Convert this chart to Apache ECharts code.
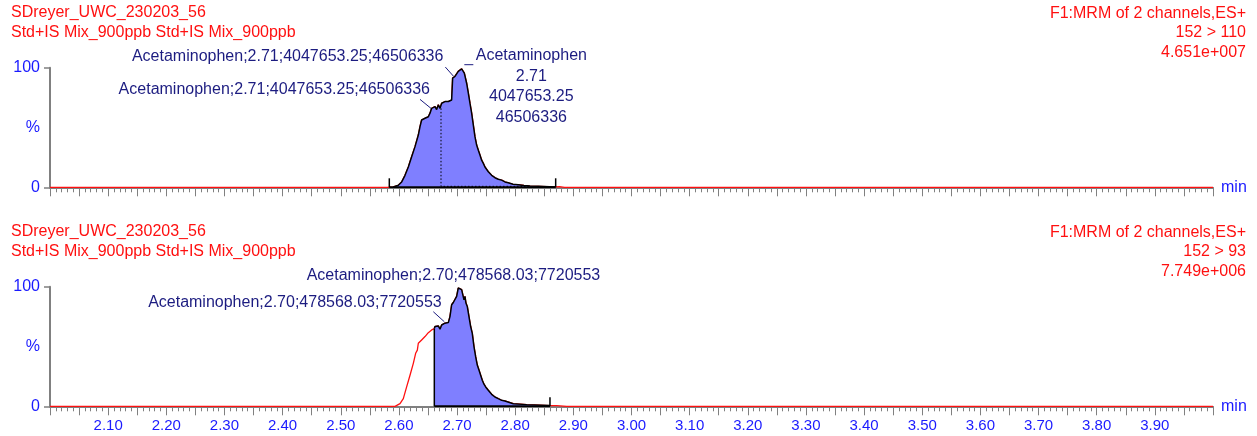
<!DOCTYPE html>
<html>
<head>
<meta charset="utf-8">
<script src="https://cdn.jsdelivr.net/npm/echarts@6/dist/echarts.min.js"></script>
<style>
html,body{margin:0;padding:0;background:#fff;}
#chart{width:1257px;height:436px;}
</style>
</head>
<body>
<div id="chart"></div>
<script>
// ---------------- DATA ----------------
const xRange = [2.00, 4.00];

// Channel 1: 152 > 110 (retention time, min ; relative intensity, %)
const topTime = [2.000, 2.580, 2.5904, 2.5990, 2.6048, 2.6105, 2.6162, 2.6219, 2.6277, 2.6334,
  2.6363, 2.6391, 2.6420, 2.6449, 2.6477, 2.6506, 2.6535, 2.6563, 2.6592, 2.6621,
  2.6649, 2.6678, 2.6707, 2.6735, 2.6764, 2.6792, 2.6850, 2.6907, 2.6924, 2.6964,
  2.6993, 2.7021, 2.7050, 2.7079, 2.7108, 2.7125, 2.7148, 2.7165, 2.7194, 2.7222,
  2.7251, 2.7280, 2.7308, 2.7337, 2.7366, 2.7394, 2.7423, 2.7452, 2.7480, 2.7538,
  2.7595, 2.7652, 2.7709, 2.7767, 2.7824, 2.7880, 2.7962, 2.8050, 2.8150, 2.8255,
  2.8400, 2.8684, 2.8760, 2.8850, 4.000];
const topPct = [0, 0, 0.3, 1.7, 4.5, 10, 17, 25.5, 34, 43.7,
  50.7, 56.3, 55, 57.7, 56.3, 59, 62, 66, 64.7, 67.5,
  65, 69, 66, 70.3, 71, 71.7, 71.7, 73, 91.3, 92.7,
  91.3, 97, 98.3, 99, 100, 95.5, 94, 87, 78.7, 70.3,
  62, 52, 42.3, 35.3, 31, 27, 22.7, 20, 17, 13,
  10, 8, 6.7, 6, 4.5, 3.8, 2.5, 2.2, 1.6, 1.0,
  0.8, 0.3, 0.5, 0, 0];
const topIntegration = [2.5835, 2.8696];
const topDropTime = 2.6724, topDropPct = 66, topDropTailEnd = 2.826, topDropTailPct = 0.8;

// Channel 2: 152 > 93
const botTime = [2.000, 2.585, 2.5933, 2.6019, 2.6076, 2.6133, 2.6191, 2.6248, 2.6288, 2.6317,
  2.6334, 2.6363, 2.6391, 2.6420, 2.6449, 2.6477, 2.6506, 2.6535, 2.6563, 2.6592,
  2.6609, 2.6621, 2.6649, 2.6678, 2.6707, 2.6735, 2.6764, 2.6792, 2.6821, 2.6850,
  2.6878, 2.6907, 2.6936, 2.6964, 2.6993, 2.7021, 2.7050, 2.7079, 2.7096, 2.7119,
  2.7136, 2.7153, 2.7176, 2.7205, 2.7234, 2.7262, 2.7291, 2.7320, 2.7348, 2.7377,
  2.7406, 2.7434, 2.7463, 2.7492, 2.7537, 2.7595, 2.7652, 2.7709, 2.7767, 2.7824,
  2.7967, 2.8198, 2.8598, 2.8714, 2.8886, 4.000];
const botPct = [0, 0, 0, 2.2, 6.4, 16.2, 26, 35.9, 44.3, 47,
  52.7, 51.3, 55.5, 54, 58.3, 59.7, 61.6, 62.5, 63.9, 64.4,
  65, 66.7, 65.3, 67.2, 64.4, 68, 66.7, 69.5, 70.9, 70,
  75, 84.9, 86.8, 86.3, 91.9, 98.9, 99.7, 97.5, 98.9, 89,
  91.9, 86.3, 83.5, 75, 66.7, 61, 49.9, 41.5, 34.5, 30.3,
  26, 21.8, 18.5, 16.2, 13.4, 10, 7.8, 6.4, 5, 4.5,
  2.2, 1.4, 0.6, 0.6, 0, 0];
const botIntegration = [2.6609, 2.8598];

// Peak annotations (anchor time, anchor %, text)
const topAnnoTime = [2.6936, 2.6552, 2.7108];
const topAnnoPct = [93, 66, 100];
const topAnnoText = [
  'Acetaminophen;2.71;4047653.25;46506336',
  'Acetaminophen;2.71;4047653.25;46506336',
  'Acetaminophen\n2.71\n4047653.25\n46506336'];
const botAnnoTime = [2.7050, 2.6781];
const botAnnoPct = [99.7, 70.7];
const botAnnoText = [
  'Acetaminophen;2.70;478568.03;7720553',
  'Acetaminophen;2.70;478568.03;7720553'];

// Header texts
const headerLeft = ['SDreyer_UWC_230203_56', 'Std+IS Mix_900ppb Std+IS Mix_900ppb'];
const topHeaderRight = ['F1:MRM of 2 channels,ES+', '152 > 110', '4.651e+007'];
const botHeaderRight = ['F1:MRM of 2 channels,ES+', '152 > 93', '7.749e+006'];
const yTickLabels = {0: '0', 50: '%', 100: '100'};

// ---------------- STYLE / LAYOUT ----------------
const RED = '#ff1010', BLUE = '#1a1aff', NAVY = '#1c1c80', GREY = '#808080', FILL = '#7f7fff';
const FONT = '"Liberation Sans", Arial, sans-serif';
const font16 = '16px ' + FONT;
const GRID_TOP = [67.7, 286.7], GRID_H = 119.6;
// per-annotation layout (pixel offsets relative to anchor)
const topAnnoLayout = [
  {kind: 'leader', lx: -8, ly: -9, tx: -10, ty: -19.3},
  {kind: 'leader', lx: -11, ly: -9, tx: -1, ty: -18.3},
  {kind: 'apex', ux1: 1, ux2: 10, uy: -3, tx: 68, ty: -22}
];
const botAnnoLayout = [
  {kind: 'plain', tx: -153.3, ty: -11.8},
  {kind: 'leader', lx: -11, ly: -10, tx: -2.6, ty: -19}
];

function pairs(ts, vs) { return ts.map((t, i) => [t, vs[i]]); }
function between(ts, vs, a, b) {
  return pairs(ts, vs).filter(p => p[0] >= a - 1e-9 && p[0] <= b + 1e-9);
}
function valueAt(ts, vs, t) {
  let best = 0, bd = Infinity;
  ts.forEach((x, i) => { const d = Math.abs(x - t); if (d < bd) { bd = d; best = i; } });
  return bd < 0.002 ? vs[best] : 0;
}

function annoRenderer(texts, layout) {
  return function (params, api) {
    const i = params.dataIndex;
    const p = api.coord([api.value(0), api.value(1)]);
    const L = layout[i];
    const ch = [];
    if (L.kind === 'leader') {
      ch.push({type: 'line', shape: {x1: p[0] + L.lx, y1: p[1] + L.ly, x2: p[0], y2: p[1]},
        style: {stroke: NAVY, lineWidth: 1}});
      ch.push({type: 'text', style: {text: texts[i], x: p[0] + L.tx, y: p[1] + L.ty,
        align: 'right', verticalAlign: 'middle', font: font16, fill: NAVY}});
    } else if (L.kind === 'apex') {
      ch.push({type: 'line', shape: {x1: p[0] + L.ux1, y1: p[1] + L.uy, x2: p[0] + L.ux2, y2: p[1] + L.uy},
        style: {stroke: NAVY, lineWidth: 1}});
      ch.push({type: 'text', style: {text: texts[i], x: p[0] + L.tx, y: p[1] + L.ty,
        align: 'center', verticalAlign: 'top', font: font16, lineHeight: 20.5, fill: NAVY}});
    } else {
      ch.push({type: 'text', style: {text: texts[i], x: p[0] + L.tx, y: p[1] + L.ty,
        align: 'left', verticalAlign: 'middle', font: font16, fill: NAVY}});
    }
    return {type: 'group', children: ch};
  };
}

function dropRenderer(params, api) {
  const top = api.coord([api.value(0), api.value(1)]);
  const base = api.coord([api.value(0), 0]);
  const y2 = Math.min(top[1], base[1] - 9);
  return {type: 'line', shape: {x1: base[0], y1: base[1], x2: base[0], y2: y2},
    style: {stroke: '#000', lineWidth: 1.5}};
}

function xAxisCfg(gi, showLabels) {
  return {
    type: 'value', gridIndex: gi, min: xRange[0], max: xRange[1], interval: 0.05,
    name: 'min', nameLocation: 'end', nameGap: 8,
    nameTextStyle: {color: BLUE, fontSize: 16, fontFamily: FONT, verticalAlign: 'middle', padding: [5, 0, 0, 0]},
    axisLine: {show: true, onZero: false, lineStyle: {color: GREY, width: 2}},
    axisTick: {show: true, length: 9, lineStyle: {color: GREY, width: 1}},
    minorTick: {show: true, splitNumber: 5, length: 5, lineStyle: {color: GREY, width: 1}},
    splitLine: {show: false}, minorSplitLine: {show: false},
    axisLabel: {
      show: showLabels, color: BLUE, fontSize: 15, fontFamily: FONT, margin: 12,
      showMinLabel: false, showMaxLabel: false,
      formatter: v => (Math.round(v * 100) % 10 === 0 ? v.toFixed(2) : '')
    }
  };
}
function yAxisCfg(gi) {
  return {
    type: 'value', gridIndex: gi, min: 0, max: 100, interval: 50,
    axisLine: {show: true, lineStyle: {color: GREY, width: 2}},
    axisTick: {show: true, length: 6, customValues: [0, 100], lineStyle: {color: GREY, width: 1.5}},
    splitLine: {show: false},
    axisLabel: {show: true, color: BLUE, fontSize: 16, fontFamily: FONT, margin: 10,
      customValues: [0, 50, 100], formatter: v => yTickLabels[v]}
  };
}

function panelSeries(gi, ts, vs, integ) {
  const s = [];
  s.push({type: 'line', xAxisIndex: gi, yAxisIndex: gi, data: pairs(ts, vs), showSymbol: false,
    lineStyle: {color: RED, width: 1.3}, z: 2, silent: true});
  s.push({type: 'line', xAxisIndex: gi, yAxisIndex: gi, data: between(ts, vs, integ[0], integ[1]),
    showSymbol: false, lineStyle: {color: '#000', width: 1.5}, areaStyle: {color: FILL, opacity: 1}, z: 3, silent: true});
  s.push({type: 'line', xAxisIndex: gi, yAxisIndex: gi, data: [[integ[0], 0], [integ[1], 0]],
    showSymbol: false, lineStyle: {color: '#000', width: 2}, z: 4, silent: true});
  s.push({type: 'custom', xAxisIndex: gi, yAxisIndex: gi, renderItem: dropRenderer,
    data: integ.map(t => [t, valueAt(ts, vs, t)]), z: 5, silent: true});
  return s;
}

const graphics = [];
[0, 1].forEach(p => {
  const base = p === 0 ? 12.7 : 231.7;
  headerLeft.forEach((t, i) => graphics.push({type: 'text', style: {text: t, x: 11, y: base + i * 20,
    verticalAlign: 'middle', align: 'left', font: font16, fill: RED}}));
  const right = p === 0 ? topHeaderRight : botHeaderRight;
  right.forEach((t, i) => graphics.push({type: 'text', style: {text: t, x: 1246, y: base + 0.6 + i * 19.7,
    verticalAlign: 'middle', align: 'right', font: font16, fill: RED}}));
});

const series = [].concat(
  panelSeries(0, topTime, topPct, topIntegration),
  [{type: 'line', xAxisIndex: 0, yAxisIndex: 0,
    data: [[topDropTime, topDropPct], [topDropTime, topDropTailPct], [topDropTailEnd, topDropTailPct]],
    showSymbol: false, lineStyle: {color: '#000', width: 1, type: [1.5, 2]}, z: 5, silent: true},
   {type: 'custom', xAxisIndex: 0, yAxisIndex: 0, renderItem: annoRenderer(topAnnoText, topAnnoLayout),
    data: pairs(topAnnoTime, topAnnoPct), clip: false, z: 6, silent: true}],
  panelSeries(1, botTime, botPct, botIntegration),
  [{type: 'custom', xAxisIndex: 1, yAxisIndex: 1, renderItem: annoRenderer(botAnnoText, botAnnoLayout),
    data: pairs(botAnnoTime, botAnnoPct), clip: false, z: 6, silent: true}]
);

const chart = echarts.init(document.getElementById('chart'), null, {renderer: 'canvas'});
chart.setOption({
  animation: false,
  backgroundColor: '#ffffff',
  textStyle: {fontFamily: FONT},
  grid: [
    {left: 50, right: 44, top: GRID_TOP[0], height: GRID_H, containLabel: false, outerBoundsMode: 'none'},
    {left: 50, right: 44, top: GRID_TOP[1], height: GRID_H, containLabel: false, outerBoundsMode: 'none'}
  ],
  xAxis: [xAxisCfg(0, false), xAxisCfg(1, true)],
  yAxis: [yAxisCfg(0), yAxisCfg(1)],
  graphic: graphics,
  series: series
});
</script>
</body>
</html>
